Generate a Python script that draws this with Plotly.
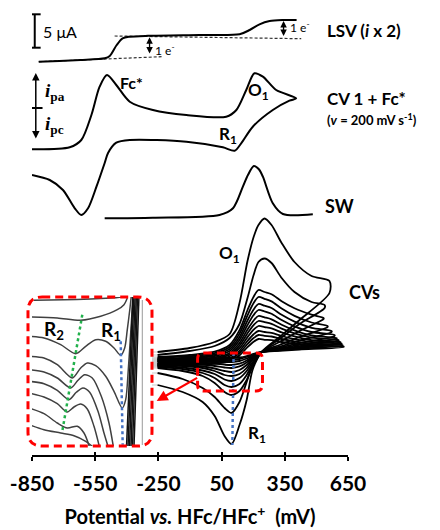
import plotly.graph_objects as go

# ---------------- data ----------------
# x: potential (mV vs HFc/HFc+), y: current, arbitrary offset units
TICKS = [-850, -550, -250, 50, 350, 650]

LSV_E = [-818, -720, -620, -505, -481, -448, -420, -386, -300, -55, 135, 183, 230, 278, 339, 406]
LSV_I = [393.3, 394, 395, 396.7, 399, 410, 416.7, 418.3, 419.2, 420, 420.7, 425, 430.7, 434, 435, 435]
LSV_BASE1_E = [-818, -235]
LSV_BASE1_I = [393.3, 398.3]
LSV_BASE2_E = [-458, 428]
LSV_BASE2_I = [419, 416.3]

CV_E = [-850, -671, -616, -568, -529, -494, -450, -386, -276, -117, 72, 120, 167, 206, 246, 309, 404,
        372, 293, 198, 143, 112, 56, -117, -386, -450, -489, -505, -544, -584, -616, -647, -703, -766, -850]
CV_I = [305.7, 307.7, 315, 340, 368.3, 380, 370, 353.3, 345, 340, 338.3, 345, 365, 381.7, 378.3, 365, 356.7,
        354.3, 345, 328.3, 311.7, 304.3, 307.7, 313.3, 315, 312.3, 302, 292, 268.3, 246.7, 240, 246.7, 265, 275, 280]

SW_E = [-505, -276, 40, 104, 151, 175, 203, 227, 246, 293, 341, 483]
SW_I = [236.7, 237.3, 240, 246.7, 268.3, 280, 289, 285.7, 278.3, 251.7, 241, 240.7]

# CVs at increasing scan rates (largest first)
CVS_E_FWD = [-254, -102, 17, 88, 135, 173, 202, 225, 254, 287, 335, 396, 477]
CVS_E_SWITCH = [562, 539, 534, 553, 572, 586, 596, 605, 614, 619, 624, 629]
CVS_E_REV = [420, 325, 240, 197, 169, 135, 97, 64, 17, -40, -135, -254]
CVS_I_FWD = [
    [103, 107, 113, 121, 152, 194, 218, 230, 236.5, 230, 212, 193, 179],
    [100, 104, 109, 117, 131, 157, 180, 193, 196.5, 192, 177, 163, 153],
    [98, 100, 103.4, 110, 124.8, 145, 158.3, 165, 163, 160.8, 153.8, 146.8, 140.4],
    [97, 98.8, 101.9, 108, 121.4, 139.7, 151.9, 158, 156.2, 153.6, 146.4, 139.1, 132.5],
    [96, 97.6, 100.4, 105.9, 118, 134.5, 145.5, 151, 149.3, 147, 140.2, 133.4, 127.2],
    [95, 96.5, 99, 104, 115, 130, 140, 145, 143.5, 141.2, 135, 128.7, 123],
    [94, 95.3, 97.6, 102.1, 112, 125.5, 134.5, 139, 137.6, 135.7, 130.2, 124.7, 119.6],
    [93, 94.2, 96.3, 100.4, 109.4, 121.7, 129.9, 134, 132.8, 131.1, 126.4, 121.6, 117.3],
    [92, 93.1, 95, 98.7, 106.8, 117.9, 125.3, 129, 127.9, 126.6, 122.6, 118.6, 114.9],
    [91, 92, 93.6, 96.9, 104.2, 114.1, 120.7, 124, 123, 122.1, 119, 115.9, 113],
    [90, 90.9, 92.4, 95.4, 102, 111, 117, 120, 119.1, 118.5, 116, 113.5, 111.2],
    [89, 89.8, 91.2, 93.9, 99.8, 107.9, 113.3, 116, 115.2, 114.9, 113, 111.1, 109.4],
]
CVS_I_SWITCH_TOP = [174, 150, 137, 129, 124, 120, 117, 115, 113, 111.5, 110, 108.5]
CVS_I_SWITCH_BOT = [162, 147, 136, 128, 123, 119, 116.5, 114.5, 112.5, 111, 109.5, 108]
CVS_I_REV = [
    [135, 118, 103, 85, 55, 30, 11, 19, 39, 53, 63, 70],
    [131, 116, 103, 90, 73, 53, 42, 47, 58, 67, 76, 82],
    [124, 113, 103, 88, 75, 64, 60, 63, 72, 79, 84, 87],
    [118, 110, 103, 91, 80, 71, 68, 70, 77, 82, 86, 88],
    [114.4, 108.4, 103, 93, 84, 77, 74, 75.5, 81, 84.5, 87.5, 89],
    [111.8, 107.2, 103, 95, 87, 81, 79, 80, 84, 87, 89, 90],
    [110.1, 106.4, 103, 96, 90, 85, 83, 84, 86.5, 88.5, 90, 91],
    [108.9, 105.8, 103, 97.4, 92.6, 88.6, 87, 87.5, 89, 90.5, 91.5, 92],
    [107.8, 105.3, 103, 98.5, 94.5, 91.3, 90, 90.3, 91.3, 92, 92.7, 93],
    [107, 104.9, 103, 99.5, 96.5, 94, 93, 93, 93.5, 93.7, 94, 94],
    [106.3, 104.6, 103, 100, 98, 96, 95, 95, 95, 95, 95, 95],
    [105.5, 104.2, 103, 101, 99, 97.5, 97, 97, 96.5, 96.3, 96, 96],
]
R1_LINE_E = [107, 101]
R1_LINE_I = [102, 10]
ZOOM_BOX_E = [-64, 244]
ZOOM_BOX_I = [64, 102]

# inset (zoom of the R1 / R2 region), arbitrary units
INSET_CURVES = [
    ([2, 32, 58.7, 78.7, 92], [145.7, 146.3, 147, 148, 149]),
    ([-3, 25.3, 48.7, 68.7, 85.3, 92, 95.3], [129, 128, 125.7, 129.7, 136.3, 141.3, 148]),
    ([-3, 12, 28.7, 43.7, 53.7, 63.7, 73.7, 82, 88.7, 92.7, 95.3, 98, 99.3],
     [109.7, 108, 101.3, 92.3, 99.7, 106.3, 104.7, 98, 90.7, 98, 116.3, 138, 149.7]),
    ([-3, 12, 25.3, 40.3, 48.7, 55.3, 63.7, 73.7, 82, 90.3, 93.7, 96.3, 98.7, 101],
     [89.7, 88, 81.3, 68, 78, 83, 80.3, 69.7, 54.7, 38, 46.3, 76.3, 113, 149.7]),
    ([-3, 12, 25.3, 38.7, 46, 52.7, 60.3, 69.3, 77, 81.3],
     [76.3, 74, 68, 58, 65.7, 71.3, 68, 49.7, 23, -0.3]),
    ([-3, 12, 25.3, 37, 44.3, 51, 57.7, 66, 72, 76],
     [64.7, 62.3, 55.7, 46.3, 53.7, 58, 53.7, 34.7, 13, -0.3]),
    ([-3, 12, 25.3, 35.3, 42, 48.7, 55.3, 62, 67.3],
     [53, 49, 42.3, 34, 39, 42, 37, 19.7, -0.3]),
    ([-3, 12, 25.3, 35.3, 45.3, 52, 57.3], [38, 32.3, 23, 18, 19.7, 13, -0.3]),
    ([-3, 12, 28.7, 42, 53.7, 60.3], [21.3, 16.3, 13, 10.3, 4.7, -0.3]),
]
INSET_STEEP_U_BOTTOM = [94.5, 96, 97.5, 99, 100.5, 102]
INSET_STEEP_U_TOP = [101, 102, 103.2, 104.4, 105.6, 107]
INSET_STEEP_V = [-1, 151]
INSET_R2_U = [50.3, 30.3]
INSET_R2_V = [131.3, 14.7]
INSET_R1_U = [88.7, 90.7]
INSET_R1_V = [104.7, 1.3]

# ---------------- figure ----------------
fig = go.Figure()
FONT = "Lato"


def add_line(x, y, color="black", width=2.0, dash=None, shape="spline", xa="x", ya="y"):
    fig.add_trace(go.Scatter(x=x, y=y, mode="lines",
                             line=dict(color=color, width=width, dash=dash, shape=shape, smoothing=0.8),
                             xaxis=xa, yaxis=ya, hoverinfo="skip", showlegend=False))


# faint low-potential continuation of the CVs
for k in range(len(CVS_I_FWD)):
    add_line([-850, CVS_E_FWD[0]], [CVS_I_FWD[k][0]] * 2, color="#c9c9c9", width=1, shape="linear")
    add_line([-850, CVS_E_REV[-1]], [CVS_I_REV[k][-1]] * 2, color="#c9c9c9", width=1, shape="linear")

# CVs family
for k in range(len(CVS_I_FWD)):
    xs = CVS_E_FWD + [CVS_E_SWITCH[k], CVS_E_SWITCH[k]] + CVS_E_REV
    ys = CVS_I_FWD[k] + [CVS_I_SWITCH_TOP[k], CVS_I_SWITCH_BOT[k]] + CVS_I_REV[k]
    add_line(xs, ys, width=1.8)

# LSV, CV, SW
add_line(LSV_BASE1_E, LSV_BASE1_I, color="#333333", width=1.2, dash="3px,2px", shape="linear")
add_line(LSV_BASE2_E, LSV_BASE2_I, color="#333333", width=1.2, dash="3px,2px", shape="linear")
add_line(LSV_E, LSV_I, width=2)
add_line(CV_E, CV_I, width=2)
add_line(SW_E, SW_I, width=2)

# R1 peak guide in main plot
add_line(R1_LINE_E, R1_LINE_I, color="#4472C4", width=2.5, dash="dot", shape="linear")

# inset
for u, v in INSET_CURVES:
    add_line(u, v, color="#404040", width=1.5, xa="x2", ya="y2")
for ub, ut in zip(INSET_STEEP_U_BOTTOM, INSET_STEEP_U_TOP):
    add_line([ub, ut], INSET_STEEP_V, color="#111111", width=1.5, shape="linear", xa="x2", ya="y2")
add_line([110.3, 110.3], [1, 146], color="#9a9a9a", width=1, shape="linear", xa="x2", ya="y2")
add_line(INSET_R2_U, INSET_R2_V, color="#22B14C", width=2.5, dash="dot", shape="linear", xa="x2", ya="y2")
add_line(INSET_R1_U, INSET_R1_V, color="#4472C4", width=2.5, dash="dot", shape="linear", xa="x2", ya="y2")

# dummy trace for the overlay axis (ticks crossing the axis line)
fig.add_trace(go.Scatter(x=[None], y=[None], xaxis="x3", yaxis="y", showlegend=False, hoverinfo="skip"))


# ---------------- shapes ----------------
def rounded_path(x0, x1, y0, y1, rx, ry):
    return (f"M {x0+rx},{y1} L {x1-rx},{y1} Q {x1},{y1} {x1},{y1-ry} "
            f"L {x1},{y0+ry} Q {x1},{y0} {x1-rx},{y0} L {x0+rx},{y0} "
            f"Q {x0},{y0} {x0},{y0+ry} L {x0},{y1-ry} Q {x0},{y1} {x0+rx},{y1} Z")


shapes = []
# inset frame (paper coords)
shapes.append(dict(type="path", xref="paper", yref="paper",
                   path=rounded_path(-0.0127, 0.3797, 0.0198, 0.3473, 0.045, 0.031),
                   line=dict(color="#FF0000", width=3, dash="8px,5px")))
# zoom box on main plot
shapes.append(dict(type="path", xref="x", yref="y",
                   path=rounded_path(ZOOM_BOX_E[0], ZOOM_BOX_E[1], ZOOM_BOX_I[0], ZOOM_BOX_I[1], 30, 6),
                   line=dict(color="#FF0000", width=3, dash="8px,5px")))
# 5 uA scale bar
for (x0, y0, x1, y1) in [(-837, 407.3, -837, 440.7), (-850, 440.7, -809, 440.7), (-850, 407.3, -809, 407.3)]:
    shapes.append(dict(type="line", xref="x", yref="y", x0=x0, y0=y0, x1=x1, y1=y1,
                       line=dict(color="black", width=2)))
# ipa / ipc divider
shapes.append(dict(type="line", xref="x", yref="y", x0=-850, y0=347, x1=-800, y1=347,
                   line=dict(color="black", width=2)))

# ---------------- annotations ----------------
ann = []


def text(x, y, s, size=17, bold=True, xref="x", yref="y", xanchor="center", family=FONT, color="black"):
    ann.append(dict(x=x, y=y, xref=xref, yref=yref, text=s, showarrow=False, xanchor=xanchor,
                    yanchor="middle", font=dict(family=family, size=size, color=color,
                                                weight="bold" if bold else "normal")))


def dbl_arrow(x, y_top, y_bot, color="black", width=1.3):
    ann.append(dict(x=x, y=y_top, ax=x, ay=y_bot, xref="x", yref="y", axref="x", ayref="y",
                    text="", showarrow=True, arrowhead=2, arrowsize=1, arrowwidth=width,
                    arrowcolor=color, arrowside="end+start", standoff=0, startstandoff=0))


text(-809, 424, "5 μA", size=16, bold=False, xanchor="left")
dbl_arrow(-292, 417.7, 400)
text(-276, 405, "1 e<sup>-</sup>", size=12, bold=False, xanchor="left")
dbl_arrow(344, 434, 417.5)
text(366, 428, "1 e<sup>-</sup>", size=12, bold=False, xanchor="left")

dbl_arrow(-832, 382, 315, width=1.5)
text(-797, 363, "<i>i</i><sub>pa</sub>", size=19, xanchor="left", family="Liberation Serif")
text(-797, 330, "<i>i</i><sub>pc</sub>", size=19, xanchor="left", family="Liberation Serif")

text(-377, 373, "Fc*", size=16)
text(225, 364, "O<sub>1</sub>", size=17)
text(78, 320, "R<sub>1</sub>", size=17)
text(88, 201, "O<sub>1</sub>", size=17)
text(216, 21, "R<sub>1</sub>", size=17)
text(22, 116, "R<sub>2</sub>", size=19, xref="x2", yref="y2")
text(79, 115, "R<sub>1</sub>", size=19, xref="x2", yref="y2")

text(0.927, 0.932, "LSV (<i>i</i> x 2)", size=17, xref="paper", yref="paper", xanchor="left")
text(0.927, 0.7846, "CV 1 + Fc*", size=17, xref="paper", yref="paper", xanchor="left")
text(0.927, 0.7363, "(<i>v</i> = 200 mV s<sup>-1</sup>)", size=13, xref="paper", yref="paper", xanchor="left")
text(0.921, 0.547, "SW", size=18, xref="paper", yref="paper", xanchor="left")
text(0.997, 0.358, "CVs", size=18, xref="paper", yref="paper", xanchor="left")

# red arrow from zoom box to the inset
ann.append(dict(x=-258, y=54, ax=-59, ay=78, xref="x", yref="y", axref="x", ayref="y", text="",
                showarrow=True, arrowhead=2, arrowsize=1, arrowwidth=2.2, arrowcolor="#FF0000",
                standoff=0, startstandoff=0))

fig.update_layout(
    width=440, height=530,
    margin=dict(l=32, r=92, t=0, b=75),
    paper_bgcolor="white", plot_bgcolor="white",
    showlegend=False,
    shapes=shapes, annotations=ann,
    xaxis=dict(range=[-850, 650], tickvals=TICKS, ticktext=[str(t) for t in TICKS],
               showline=True, linecolor="black", linewidth=2, mirror=False,
               ticks="outside", ticklen=4, tickwidth=2, tickcolor="black",
               showgrid=False, zeroline=False, anchor="y",
               tickfont=dict(family=FONT, size=21, color="black", weight="bold"),
               ticklabelstandoff=5,
               title=dict(text="Potential <i>vs.</i> HFc/HFc<sup>+</sup>\u00a0 (mV)",
                          font=dict(family=FONT, size=20, color="black", weight="bold"),
                          standoff=16)),
    xaxis3=dict(range=[-850, 650], overlaying="x", anchor="y", side="bottom",
                tickvals=TICKS, ticks="inside", ticklen=3, tickwidth=2, tickcolor="black",
                showticklabels=False, showgrid=False, zeroline=False, showline=False),
    yaxis=dict(range=[0, 455], visible=False, fixedrange=True),
    xaxis2=dict(domain=[0, 0.3797], range=[0, 120], visible=False, anchor="y2"),
    yaxis2=dict(domain=[0.0198, 0.3473], range=[0, 149], visible=False, anchor="x2"),
)

fig.write_html("out.html")
